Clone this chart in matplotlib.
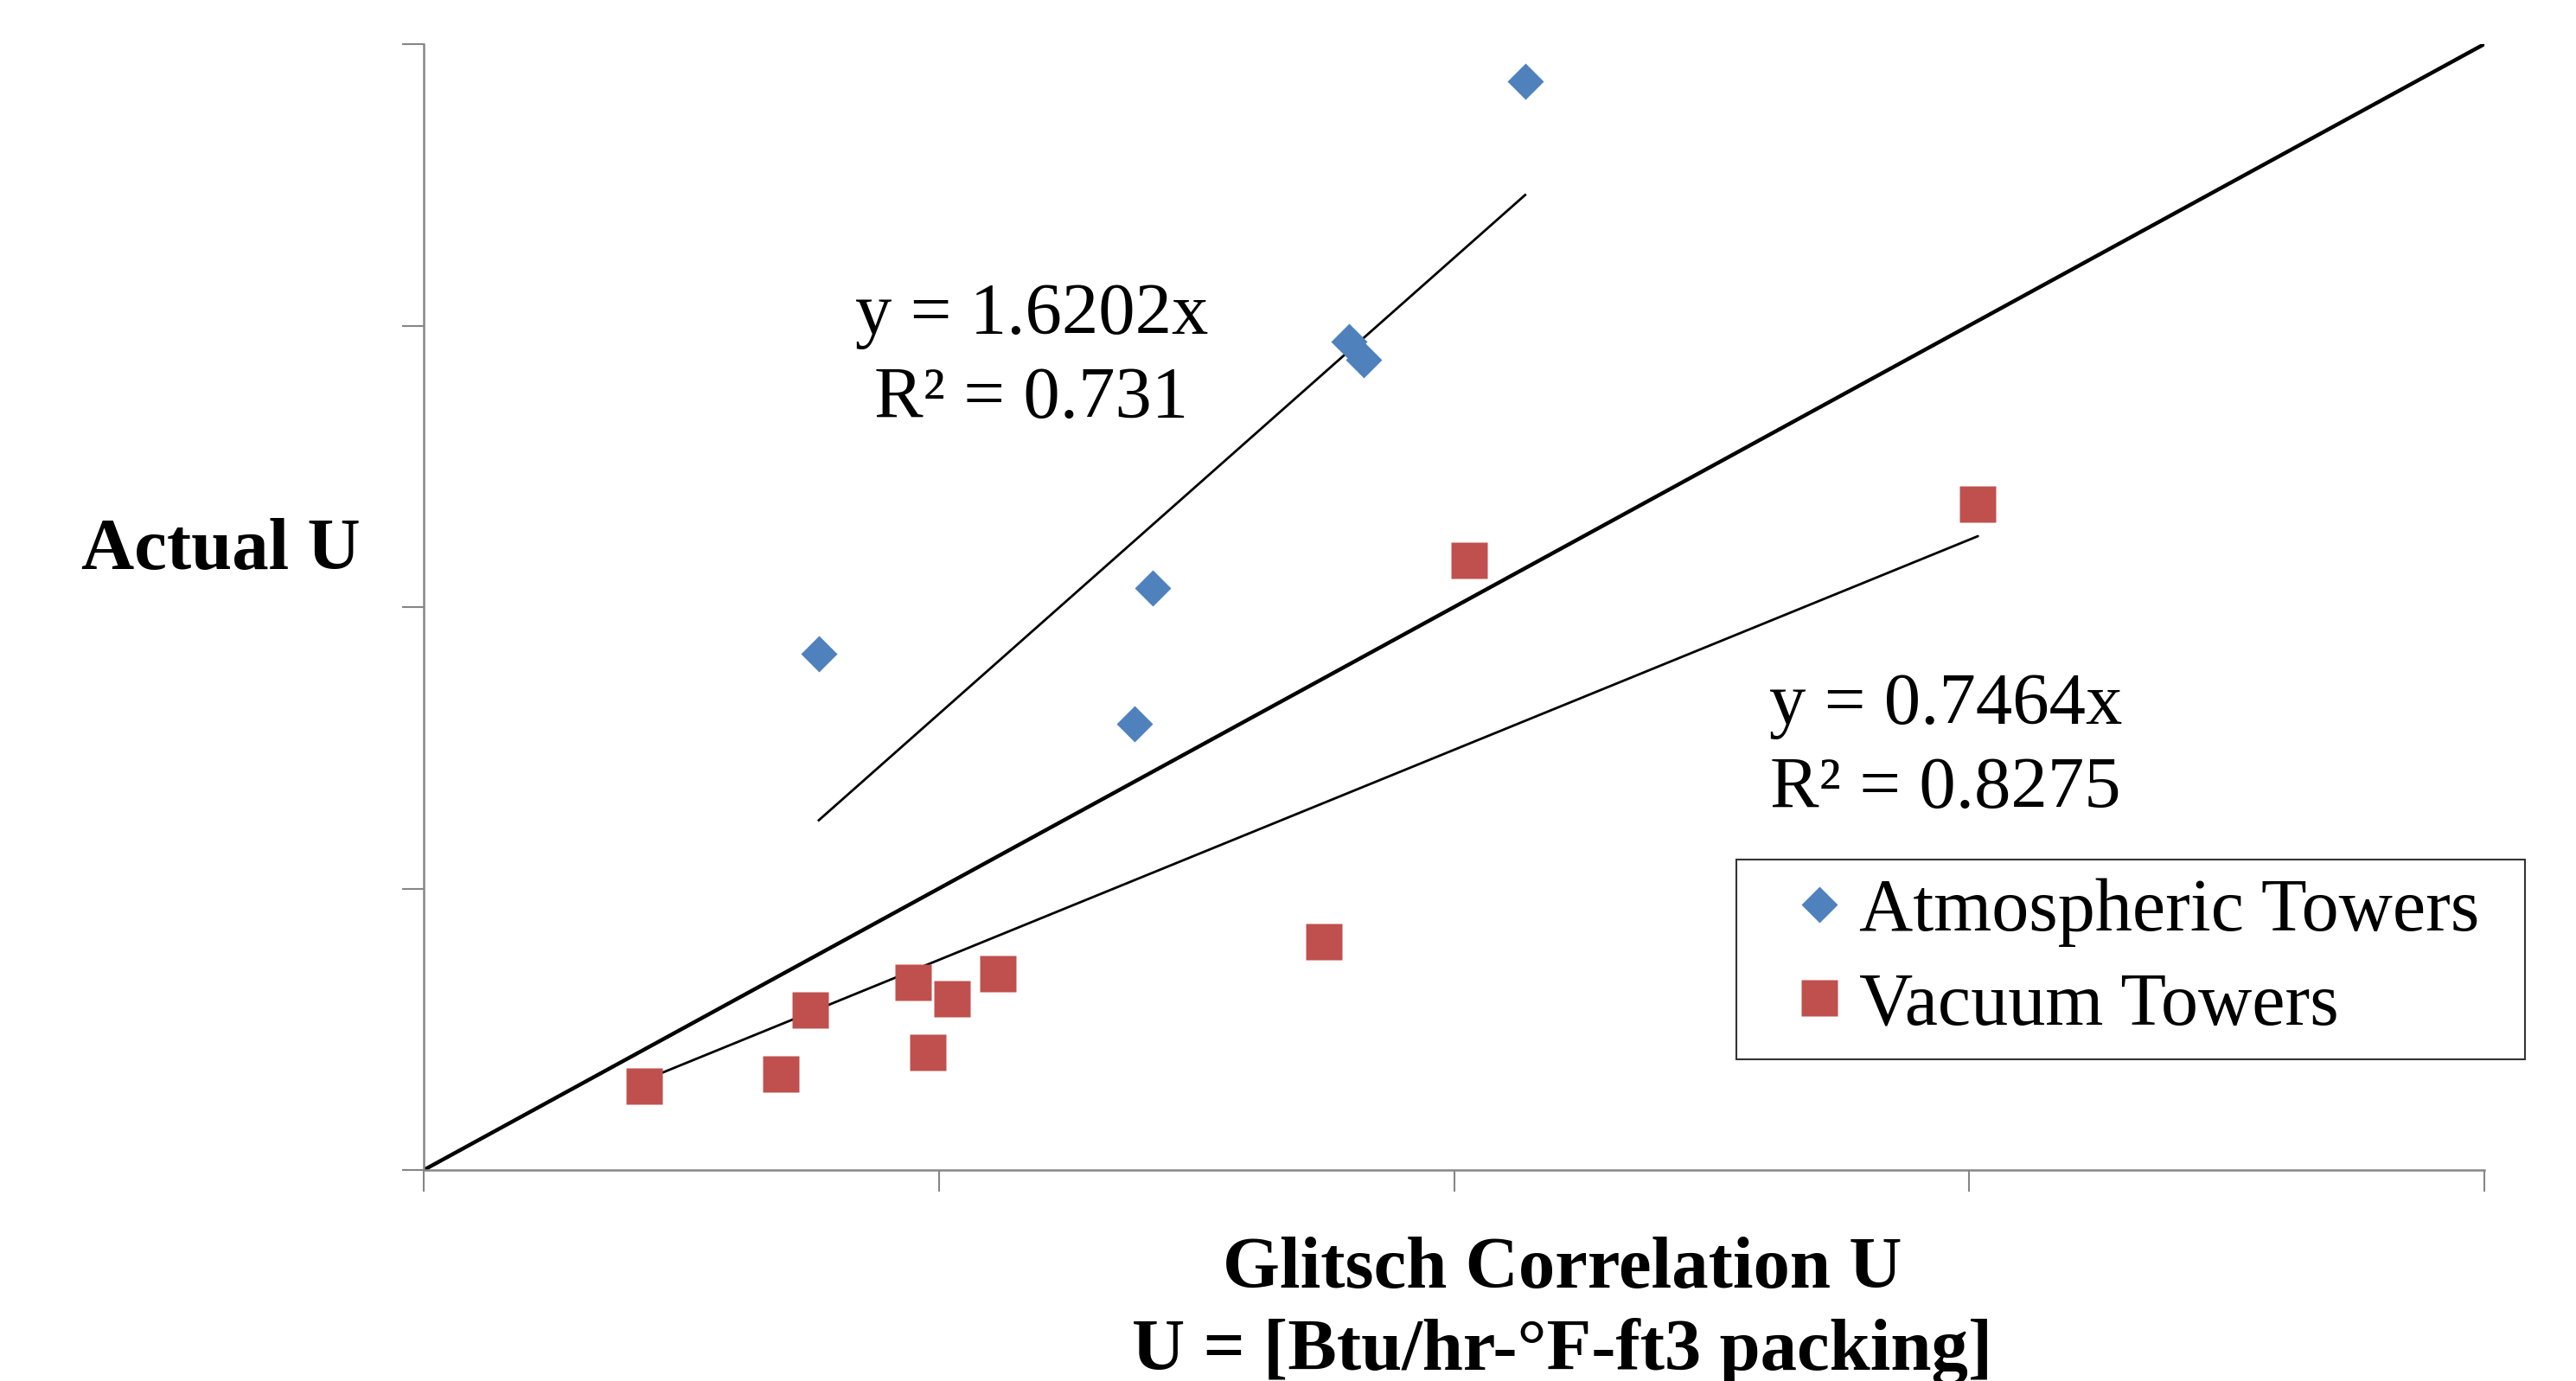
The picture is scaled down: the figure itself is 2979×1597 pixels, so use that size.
import matplotlib
matplotlib.use('Agg')
import matplotlib.pyplot as plt
import numpy as np

plt.rcParams['font.family'] = ['Liberation Serif', 'DejaVu Serif']

# values (axis units: one tick = 1)
atm_x = [0.767, 1.380, 1.415, 1.796, 1.824, 2.138]
atm_y = [1.833, 1.585, 2.068, 2.943, 2.880, 3.867]
vac_x = [0.428, 0.693, 0.750, 0.950, 0.979, 1.026, 1.115, 1.747, 2.029, 3.017]
vac_y = [0.298, 0.341, 0.568, 0.667, 0.418, 0.608, 0.697, 0.811, 2.166, 2.366]
atm_slope = 1.6202
atm_r2 = 0.731
vac_slope = 0.7464
vac_r2 = 0.8275
lim = 4

W, H = 2979, 1597
fig = plt.figure(figsize=(W / 100, H / 100), dpi=100)
ax = fig.add_axes([490 / W, 1 - 1353 / H, 2383 / W, 1302 / H])

blue = '#4F81BD'
red = '#C0504D'
grey = '#868686'

ax.plot([0, lim], [0, lim], color='black', lw=3.2, zorder=2, solid_capstyle='butt')
xa = np.array([min(atm_x), max(atm_x)])
ax.plot(xa, atm_slope * xa, color='black', lw=2.0, zorder=2)
xv = np.array([min(vac_x), max(vac_x)])
ax.plot(xv, vac_slope * xv, color='black', lw=2.0, zorder=2, solid_capstyle='round')

ax.plot(atm_x, atm_y, 'D', color=blue, ms=21, mec='none', zorder=3, label='Atmospheric Towers')
ax.plot(vac_x, vac_y, 's', color=red, ms=30, mec='none', zorder=3, label='Vacuum Towers')

ax.set_xlim(0, lim)
ax.set_ylim(0, lim)
ax.set_xticks(range(lim + 1))
ax.set_yticks(range(lim + 1))
ax.set_xticklabels([])
ax.set_yticklabels([])
ax.tick_params(length=18, width=1.5, color=grey, direction='out')
for s in ['top', 'right']:
    ax.spines[s].set_visible(False)
for s in ['left', 'bottom']:
    ax.spines[s].set_color(grey)
    ax.spines[s].set_linewidth(1.8)

def fx(px):
    return px / W

def fy(py):
    return 1 - py / H

fig.text(fx(1193), fy(414), f'y = {atm_slope}x\nR² = {atm_r2}', fontsize=61,
         ha='center', va='center', multialignment='center', linespacing=1.33)
fig.text(fx(2250), fy(865), f'y = {vac_slope}x\nR² = {vac_r2}', fontsize=61,
         ha='center', va='center', multialignment='center', linespacing=1.33)

fig.text(fx(255), fy(637), 'Actual U', fontsize=61, fontweight='bold', ha='center', va='center')
fig.text(fx(1807), fy(1469), 'Glitsch Correlation U', fontsize=61, fontweight='bold',
         ha='center', va='center')
fig.text(fx(1807), fy(1563), 'U = [Btu/hr-°F-ft3 packing]', fontsize=61, fontweight='bold',
         ha='center', va='center')

leg = fig.legend(loc='upper left',
                 bbox_to_anchor=(fx(2008), fy(1216), (2920 - 2008) / W, (1216 - 994) / H),
                 mode='expand', fontsize=62,
                 frameon=True, fancybox=False, edgecolor='black', borderaxespad=0,
                 handlelength=1.73, handletextpad=-0.33, labelspacing=0.335, borderpad=0.25,
                 numpoints=1)
leg.get_frame().set_linewidth(1.5)

fig.savefig('out.png', dpi=100)
